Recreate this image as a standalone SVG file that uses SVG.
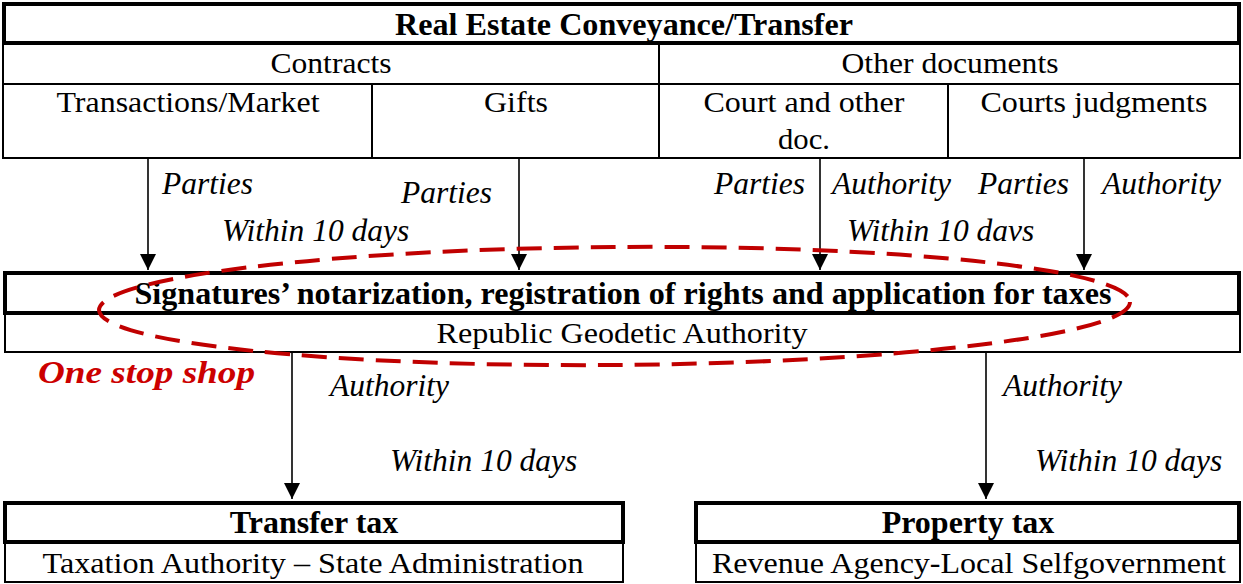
<svg xmlns="http://www.w3.org/2000/svg" width="1243" height="584" viewBox="0 0 1243 584">
<style>
.bg{fill:#fff}
.thick{fill:#fff;stroke:#000;stroke-width:4}
.thin{fill:#fff;stroke:#000;stroke-width:2}
.div{stroke:#000;stroke-width:2;fill:none}
.b{font-family:"Liberation Serif","Times New Roman",serif;font-weight:bold;font-size:32px;fill:#000;text-anchor:middle}
.r{font-family:"Liberation Serif","Times New Roman",serif;font-size:29px;fill:#000;text-anchor:middle}
.i{font-family:"Liberation Serif","Times New Roman",serif;font-style:italic;font-size:31.5px;fill:#000}
.conn{stroke:#000;stroke-width:1.6;fill:none;marker-end:url(#ah)}
.oss{fill:none;stroke:#c00000;stroke-width:4;stroke-dasharray:25 12}
.red{font-family:"Liberation Serif","Times New Roman",serif;font-style:italic;font-weight:bold;font-size:32px;fill:#cc0000}
</style>
<defs>
<marker id="ah" viewBox="0 0 16 16" refX="16" refY="8" markerWidth="16" markerHeight="16" orient="auto" markerUnits="userSpaceOnUse">
<path d="M0,0 L16,8 L0,16 z" fill="#000"/>
</marker>
</defs>
<rect class="bg" x="0" y="0" width="1243" height="584"/>

<g id="conveyance-table">
<rect class="thin" x="3" y="44" width="1237" height="114"/>
<line class="div" x1="3" y1="84" x2="1240" y2="84"/>
<line class="div" x1="659" y1="44" x2="659" y2="158"/>
<line class="div" x1="372" y1="84" x2="372" y2="158"/>
<line class="div" x1="948" y1="84" x2="948" y2="158"/>
<rect class="thick" x="4" y="4" width="1235" height="39"/>
<text class="b" x="624" y="35" textLength="458" lengthAdjust="spacingAndGlyphs">Real Estate Conveyance/Transfer</text>
</g>
<g id="contracts"><text class="r" x="331" y="73" textLength="121" lengthAdjust="spacingAndGlyphs">Contracts</text></g>
<g id="other-documents"><text class="r" x="950" y="73" textLength="217" lengthAdjust="spacingAndGlyphs">Other documents</text></g>
<g id="transactions"><text class="r" x="188" y="112" textLength="263" lengthAdjust="spacingAndGlyphs">Transactions/Market</text></g>
<g id="gifts"><text class="r" x="516" y="112" textLength="64" lengthAdjust="spacingAndGlyphs">Gifts</text></g>
<g id="court-other"><text class="r" x="804" y="112" textLength="201" lengthAdjust="spacingAndGlyphs">Court and other</text><text class="r" x="804" y="149" textLength="52" lengthAdjust="spacingAndGlyphs">doc.</text></g>
<g id="courts-judgments"><text class="r" x="1094" y="112" textLength="227" lengthAdjust="spacingAndGlyphs">Courts judgments</text></g>

<g id="signatures">
<rect class="thin" x="5" y="313" width="1235" height="39"/>
<rect class="thick" x="5" y="273" width="1234" height="40"/>
<text class="b" x="623" y="304" textLength="977" lengthAdjust="spacingAndGlyphs">Signatures’ notarization, registration of rights and application for taxes</text>
<text class="r" x="622" y="343" textLength="371" lengthAdjust="spacingAndGlyphs">Republic Geodetic Authority</text>
</g>

<g id="transfer-tax">
<rect class="thin" x="5" y="542" width="618" height="40"/>
<rect class="thick" x="5" y="503" width="618" height="39"/>
<text class="b" x="314" y="533">Transfer tax</text>
<text class="r" x="313" y="573" textLength="541" lengthAdjust="spacingAndGlyphs">Taxation Authority – State Administration</text>
</g>

<g id="property-tax">
<rect class="thin" x="696" y="542" width="544" height="40"/>
<rect class="thick" x="696" y="503" width="543" height="39"/>
<text class="b" x="968" y="533">Property tax</text>
<text class="r" x="969" y="573" textLength="514" lengthAdjust="spacingAndGlyphs">Revenue Agency-Local Selfgovernment</text>
</g>

<g id="connectors">
<line class="conn" x1="148" y1="158" x2="148" y2="270"/>
<line class="conn" x1="519" y1="158" x2="519" y2="270"/>
<line class="conn" x1="820" y1="158" x2="820" y2="270"/>
<line class="conn" x1="1084" y1="158" x2="1084" y2="270"/>
<line class="conn" x1="292" y1="352" x2="292" y2="499"/>
<line class="conn" x1="986" y1="352" x2="986" y2="499"/>
</g>

<g id="connector-labels">
<text class="i" x="162" y="194">Parties</text>
<text class="i" x="401" y="203">Parties</text>
<text class="i" x="222" y="241">Within 10 days</text>
<text class="i" x="714" y="194">Parties</text>
<text class="i" x="832" y="194">Authority</text>
<text class="i" x="978" y="194">Parties</text>
<text class="i" x="1102" y="194">Authority</text>
<text class="i" x="847" y="241">Within 10 davs</text>
<text class="i" x="330" y="396">Authority</text>
<text class="i" x="390" y="471">Within 10 days</text>
<text class="i" x="1003" y="396">Authority</text>
<text class="i" x="1035" y="471">Within 10 days</text>
</g>

<g id="one-stop-shop">
<ellipse class="oss" cx="614.5" cy="306" rx="515.5" ry="59" transform="rotate(-0.45 614.5 306)"/>
<text class="red" x="38" y="383" textLength="217" lengthAdjust="spacingAndGlyphs">One stop shop</text>
</g>
</svg>
